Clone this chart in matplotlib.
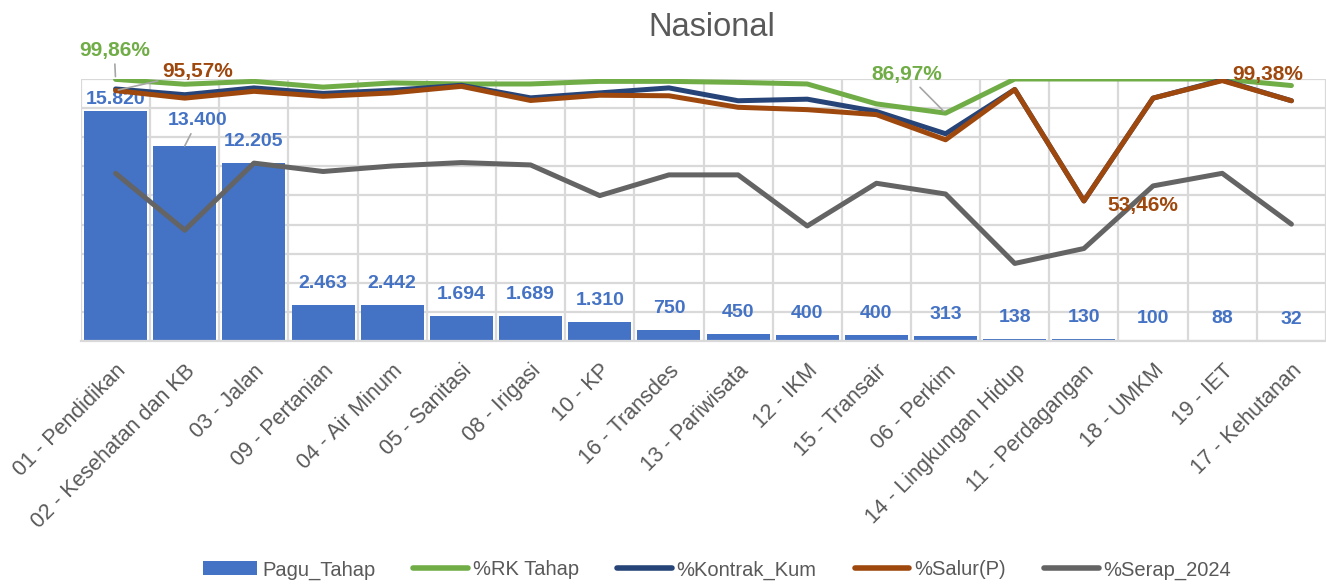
import matplotlib
matplotlib.use('Agg')
import matplotlib.pyplot as plt
from matplotlib.lines import Line2D
from matplotlib.patches import Patch

plt.rcParams['font.family'] = ['Liberation Sans', 'DejaVu Sans']

categories = ['01 - Pendidikan', '02 - Kesehatan dan KB', '03 - Jalan', '09 - Pertanian',
              '04 - Air Minum', '05 - Sanitasi', '08 - Irigasi', '10 - KP', '16 - Transdes',
              '13 - Pariwisata', '12 - IKM', '15 - Transair', '06 - Perkim',
              '14 - Lingkungan Hidup', '11 - Perdagangan', '18 - UMKM', '19 - IET',
              '17 - Kehutanan']
pagu = [15820, 13400, 12205, 2463, 2442, 1694, 1689, 1310, 750, 450, 400, 400, 313,
        138, 130, 100, 88, 32]
rk_tahap = [99.86, 98.0, 99.1, 96.9, 98.5, 98.1, 98.1, 99.1, 99.1, 98.7, 98.1, 90.5,
            86.97, 100, 100, 100, 100, 97.5]
kontrak = [96.2, 94.0, 96.6, 94.5, 95.7, 97.6, 92.8, 94.7, 96.6, 91.7, 92.3, 87.6,
           79.1, 96.0, 53.46, 92.7, 99.6, 91.7]
salur = [95.57, 92.7, 95.3, 93.4, 94.7, 97.2, 91.8, 93.8, 93.6, 89.2, 88.3, 86.4,
         76.8, 96.0, 53.46, 92.7, 99.38, 91.7]
serap = [64.0, 42.3, 67.9, 64.7, 66.8, 68.1, 67.2, 55.5, 63.4, 63.4, 43.9, 60.2,
         56.1, 29.6, 35.3, 59.2, 64.0, 44.6]

BLUE = '#4472C4'
GREEN = '#70AD47'
NAVY = '#264478'
BROWN = '#9E480E'
GRAY = '#646464'
TXT = '#595959'
GRID = '#D9D9D9'

x = list(range(len(categories)))

fig = plt.figure(figsize=(13.26, 5.85), dpi=100)
ax = fig.add_axes([81 / 1326, 1 - 341 / 585, 1245 / 1326, 262 / 585])

ax.bar(x, pagu, width=0.91, color=BLUE, zorder=2)
ax.set_ylim(0, 18000)
ax.set_xlim(-0.5, len(categories) - 0.5)
ax.set_yticks(range(0, 18001, 2000))
ax.set_xticks(x)
ax.set_xticks([i + 0.5 for i in range(-1, len(categories))], minor=True)
ax.grid(axis='y', color=GRID, lw=1.6, zorder=0)
ax.grid(axis='x', which='minor', color=GRID, lw=1.6, zorder=0)
ax.tick_params(axis='x', which='both', length=0)
ax.set_xticklabels(categories, rotation=45, ha='right', va='top', rotation_mode='anchor',
                   fontsize=15.5, color=TXT)
ax.tick_params(axis='x', pad=14)
for s in ['top', 'left', 'right']:
    ax.spines[s].set_visible(False)
ax.spines['bottom'].set_color(GRID)
ax.spines['bottom'].set_linewidth(1.6)

# bar labels
for i, v in enumerate(pagu):
    lab = f"{v:,}".replace(',', '.')
    if i == 0:
        ax.annotate(lab, (i, v), xytext=(0, 7), textcoords='offset pixels', ha='center',
                    va='baseline', color=BLUE, fontsize=14, fontweight='bold', zorder=5)
    elif i == 1:
        ax.annotate(lab, (i, v), xytext=(i + 0.19, 14874), ha='center', va='baseline',
                    color=BLUE, fontsize=14, fontweight='bold', zorder=5,
                    arrowprops=dict(arrowstyle='-', color='#A6A6A6', lw=1.2,
                                    shrinkA=2, shrinkB=0))
    else:
        ax.annotate(lab, (i, v), xytext=(0, 17), textcoords='offset pixels', ha='center',
                    va='baseline', color=BLUE, fontsize=14, fontweight='bold', zorder=5)

ax2 = ax.twinx()
ax2.set_ylim(0, 100)
ax2.axis('off')
# twinx puts the left ticks back on, so hide them afterwards
ax.tick_params(axis='y', which='both', left=False, right=False,
               labelleft=False, labelright=False)

kw = dict(lw=3.6, solid_joinstyle='round', solid_capstyle='round')
ax2.plot(x, rk_tahap, color=GREEN, **kw)
ax2.plot(x, kontrak, color=NAVY, **kw)
ax2.plot(x, salur, color=BROWN, **kw)
ax2.plot(x, serap, color=GRAY, **kw)


def pct(v):
    return f"{v:.2f}%".replace('.', ',')


lead = dict(arrowstyle='-', color='#A6A6A6', lw=1.2, shrinkA=1, shrinkB=2)
ax2.annotate(pct(rk_tahap[0]), (0, rk_tahap[0]), xytext=(-0.02, 108.8), ha='center',
             va='baseline', color=GREEN, fontsize=15, fontweight='bold',
             annotation_clip=False, arrowprops=lead)
ax2.annotate(pct(salur[0]), (0, salur[0]), xytext=(1.18, 100.6), ha='center',
             va='baseline', color=BROWN, fontsize=15, fontweight='bold',
             annotation_clip=False, arrowprops=lead)
ax2.annotate(pct(rk_tahap[12]), (12, rk_tahap[12]), xytext=(11.44, 99.8), ha='center',
             va='baseline', color=GREEN, fontsize=15, fontweight='bold',
             annotation_clip=False, arrowprops=lead)
ax2.annotate(pct(salur[14]), (14, salur[14]), xytext=(14.85, 49.7), ha='center',
             va='baseline', color=BROWN, fontsize=15, fontweight='bold',
             annotation_clip=False)
ax2.annotate(pct(salur[16]), (16, salur[16]), xytext=(16.65, 99.8), ha='center',
             va='baseline', color=BROWN, fontsize=15, fontweight='bold',
             annotation_clip=False)

fig.text(712 / 1326, 1 - 36 / 585, 'Nasional', ha='center', va='baseline',
         fontsize=23.5, color=TXT)

handles = [Patch(facecolor=BLUE, edgecolor='none'),
           Line2D([], [], color=GREEN, lw=4, solid_capstyle='round'),
           Line2D([], [], color=NAVY, lw=4, solid_capstyle='round'),
           Line2D([], [], color=BROWN, lw=4, solid_capstyle='round'),
           Line2D([], [], color=GRAY, lw=4, solid_capstyle='round')]
labels = ['Pagu_Tahap', '%RK Tahap', '%Kontrak_Kum', '%Salur(P)', '%Serap_2024']
leg = fig.legend(handles, labels, loc='center', bbox_to_anchor=(717 / 1326, 15 / 585),
                 ncol=5, frameon=False, fontsize=14.5, handlelength=2.7,
                 handletextpad=0.25, columnspacing=1.9)
for t in leg.get_texts():
    t.set_color(TXT)

fig.savefig('out.png', dpi=100)
